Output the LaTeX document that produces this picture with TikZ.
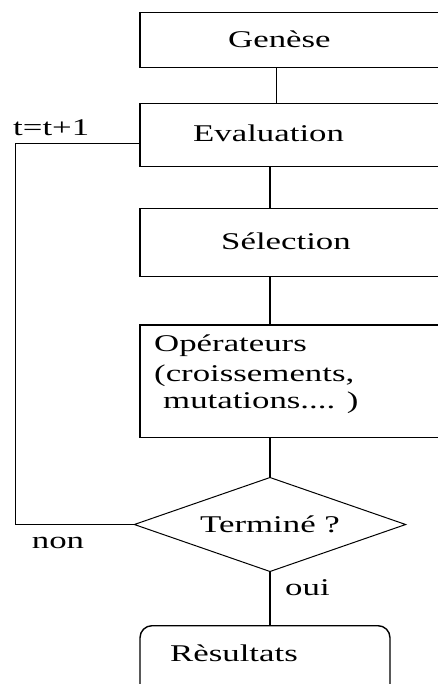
\documentclass[tikz,border=0pt]{standalone}
\usepackage{fontspec}
\setmainfont{Liberation Serif}
\usetikzlibrary{shapes.geometric}
\newcommand{\wide}[1]{\scalebox{1.45}[1]{#1}}

\begin{document}
\begin{tikzpicture}[x=1pt, y=-1pt,
						block/.style={draw, rectangle, line width=1.4pt, inner sep=0, minimum width=330pt},
						ending/.style={draw, rectangle, rounded corners=12pt, line width=1.4pt, inner sep=0},
						test/.style={draw, diamond, line width=1pt, inner sep=0, aspect=2.88, minimum width=271.7pt, minimum height=94.4pt, font=\fontsize{24}{28}\selectfont},
						txt/.style={inner sep=0, anchor=base west, font=\fontsize{24}{28}\selectfont},
						link/.style={line width=1.4pt}]
		\useasboundingbox (0,0) rectangle (438,684);
		\clip (0,0) rectangle (438,684);
		\node (gen) [block, minimum height=55pt] at (305,39.8) {};
		\node (eval) [block, minimum height=63.4pt] at (305,135) {};
		\node (sel) [block, minimum height=68.4pt] at (305,242.5) {};
		\node (op) [block, minimum height=112.3pt] at (305,381.2) {};
		\node (term) [test] at (270,524.5) {\wide{Terminé ?}};
		\node (res) [ending, minimum width=250pt, minimum height=80pt] at (265,665.7) {};

		\node (gentxt) [txt] at (228,47.7) {\wide{Genèse}};
		\node (evaltxt) [txt] at (193,141.7) {\wide{Evaluation}};
		\node (seltxt) [txt] at (221,250) {\wide{Sélection}};
		\node (optxta) [txt] at (154,351.7) {\wide{Opérateurs}};
		\node (optxtb) [txt] at (154,381.7) {\wide{(croissements,}};
		\node (optxtc) [txt] at (163,408.3) {\wide{mutations.... )}};
		\node (restxt) [txt] at (170,661.7) {\wide{Rèsultats}};
		\node (incr) [txt] at (13,136) {\wide{t=t+1}};
		\node (no) [txt] at (31.7,548.3) {\wide{non}};
		\node (yes) [txt] at (285,595) {\wide{oui}};

		\coordinate (back) at (15.7,524.5);

		\draw[link] ([xshift=-28.3pt]gen.south) -- ([xshift=-28.3pt]eval.north);
		\draw[link] ([xshift=-35pt]eval.south) -- ([xshift=-35pt]sel.north);
		\draw[link] ([xshift=-35pt]sel.south) -- ([xshift=-35pt]op.north);
		\draw[link] ([xshift=-35pt]op.south) -- (term.north);
		\draw[link] (term.south) -- ([xshift=5pt]res.north);
		\draw[link] (term.west) -- (back) |- ([yshift=-8.3pt]eval.west);
	\end{tikzpicture}
\end{document}
